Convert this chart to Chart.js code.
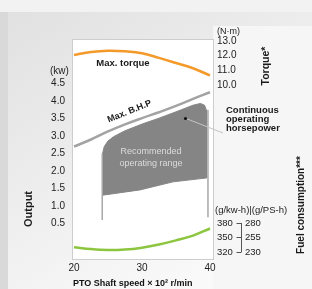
<!DOCTYPE html>
<html>
<head>
<meta charset="utf-8">
<script src="https://cdn.jsdelivr.net/npm/chart.js@4.4.1/dist/chart.umd.min.js"></script>
<style>
  html, body { margin: 0; padding: 0; background: #e8e8e8; }
  canvas { display: block; }
</style>
</head>
<body>
<canvas id="pto" width="312" height="289"></canvas>
<script>
// values
const speedTicks = [20, 30, 40];
const speedPoints = [20, 22.5, 25, 27.5, 30, 32.5, 35, 37.5, 40];
const torqueNm = [12.05, 12.25, 12.34, 12.30, 12.17, 11.85, 11.5, 11.14, 10.65];
const maxBhpKw = [2.70, 2.90, 3.13, 3.33, 3.51, 3.68, 3.86, 4.06, 4.25];
const fuelGkwh = [330, 326, 324, 325, 329, 335.5, 344, 354, 368.6];

const outputTicks = [0.5, 1.0, 1.5, 2.0, 2.5, 3.0, 3.5, 4.0, 4.5];
const torqueTicks = [10, 11, 12, 13];
const fuelKwhTicks = [320, 350, 380];
const fuelPsTicks = [230, 255, 280];

// recommended operating range (closed outline, kW)
const rangeX = [24.2, 24.2, 24.45, 25.0, 25.8, 27.5, 30, 32.5, 35, 37.5, 38.6, 39.2, 39.5, 39.5, 38.97, 34.56, 29.7, 24.2];
const rangeKw = [1.31, 2.5, 2.7, 2.86, 2.98, 3.15, 3.34, 3.51, 3.69, 3.88, 3.93, 3.88, 3.72, 1.80, 1.79, 1.69, 1.46, 1.31];
const legLeftX = [24.15, 24.15];
const legLeftKw = [0.6, 2.5];
const legRightX = [39.7, 39.7];
const legRightKw = [0.68, 3.75];

const FONT = "'Liberation Sans', Arial, sans-serif";

function pts(xs, ys) {
    return xs.map((v, i) => ({ x: v, y: ys[i] }));
}

function fixTicks(values) {
    return scale => { scale.ticks = values.map(v => ({ value: v })); };
}

function drawText(ctx, text, x, y, opts) {
    opts = opts || {};
    ctx.save();
    ctx.font = (opts.weight || 'normal') + ' ' + (opts.size || 9) + 'px ' + FONT;
    ctx.fillStyle = opts.color || '#1a1a1a';
    ctx.textAlign = opts.align || 'left';
    ctx.textBaseline = 'middle';
    ctx.translate(x, y);
    if (opts.rot) ctx.rotate(opts.rot * Math.PI / 180);
    ctx.fillText(text, 0, 0);
    ctx.restore();
}

// background panel + white plot box
const panelPlugin = {
    id: 'panel',
    beforeDraw(chart) {
        const { ctx, chartArea: a, width, height } = chart;
        ctx.save();
        const g = ctx.createLinearGradient(0, 0, width * 0.55, height);
        g.addColorStop(0, '#e0e0e0');
        g.addColorStop(0.45, '#ebebeb');
        g.addColorStop(1, '#f9f9f9');
        ctx.fillStyle = g;
        ctx.fillRect(0, 0, width, height);
        ctx.fillStyle = '#f2f2f2';
        ctx.fillRect(0, 0, width, 12);
        ctx.fillStyle = '#d9d9d9';
        ctx.fillRect(0, 12, 8, height - 12);
        ctx.fillStyle = '#f6f6f6';
        ctx.fillRect(a.right, 26, width - a.right, height - 26);
        ctx.fillStyle = '#ffffff';
        ctx.fillRect(a.left, a.top, a.right - a.left, a.bottom - a.top);
        ctx.strokeStyle = '#cdcdcd';
        ctx.lineWidth = 1;
        ctx.strokeRect(a.left - 0.5, a.top - 0.5, a.right - a.left + 1, a.bottom - a.top + 1);
        ctx.restore();
    }
};

// curve labels, units, side titles
const notesPlugin = {
    id: 'notes',
    afterDatasetsDraw(chart) {
        const ctx = chart.ctx;
        const fuel = chart.scales.yFuel;

        drawText(ctx, 'Max. torque', 123, 63, { size: 9.5, weight: 'bold', align: 'center' });
        drawText(ctx, 'Max. B.H.P', 129.5, 111.5, { size: 9, weight: 'bold', align: 'center', rot: -22 });
        drawText(ctx, 'Recommended', 151, 152, { size: 9, color: '#dcdcdc', align: 'center' });
        drawText(ctx, 'operating range', 151, 163.5, { size: 9, color: '#dcdcdc', align: 'center' });

        // leader for continuous operating horsepower
        ctx.save();
        ctx.strokeStyle = '#c4c4c4';
        ctx.lineWidth = 1;
        ctx.beginPath();
        ctx.moveTo(186, 118.5);
        ctx.lineTo(223, 133);
        ctx.stroke();
        ctx.fillStyle = '#111';
        ctx.beginPath();
        ctx.arc(185.5, 118.5, 1.6, 0, Math.PI * 2);
        ctx.fill();
        ctx.restore();
        drawText(ctx, 'Continuous', 226, 110, { size: 9.5, weight: 'bold' });
        drawText(ctx, 'operating', 226, 119, { size: 9.5, weight: 'bold' });
        drawText(ctx, 'horsepower', 226, 128, { size: 9.5, weight: 'bold' });

        // units
        drawText(ctx, '(kw)', 50, 71, { size: 10, color: '#222' });
        drawText(ctx, '(N·m)', 217, 31.5, { size: 9, color: '#222' });
        drawText(ctx, '(g/kw-h)|(g/PS-h)', 215, 210, { size: 9.5, color: '#222' });

        // side titles
        drawText(ctx, 'Output', 29, 209, { size: 11, weight: 'bold', align: 'center', rot: -90 });
        drawText(ctx, 'Torque*', 266, 66, { size: 10.5, weight: 'bold', align: 'center', rot: -90 });
        drawText(ctx, 'Fuel consumption***', 301, 205, { size: 10, weight: 'bold', align: 'center', rot: -90 });

        // bracket joining the two fuel scales
        const ys = fuelKwhTicks.map(v => fuel.getPixelForValue(v));
        const bx = 241.5;
        ctx.save();
        ctx.strokeStyle = '#555';
        ctx.lineWidth = 1;
        ctx.beginPath();
        ctx.moveTo(bx, Math.min(...ys));
        ctx.lineTo(bx, Math.max(...ys));
        ys.forEach(y => {
            ctx.moveTo(bx - 5, Math.round(y) + 0.5);
            ctx.lineTo(bx, Math.round(y) + 0.5);
        });
        ctx.stroke();
        ctx.restore();
    }
};

const tickFont = { size: 10, family: FONT };
const hidden = { display: false, drawTicks: false };

new Chart(document.getElementById('pto'), {
    type: 'line',
    data: {
        datasets: [
            {
                label: 'Max. torque',
                data: pts(speedPoints, torqueNm),
                yAxisID: 'yTorque',
                borderColor: '#f39a2b',
                borderWidth: 2.5,
                tension: 0.4,
                pointRadius: 0,
                fill: false
            },
            {
                label: 'Fuel consumption',
                data: pts(speedPoints, fuelGkwh),
                yAxisID: 'yFuel',
                borderColor: '#8cc63f',
                borderWidth: 2.5,
                tension: 0.4,
                pointRadius: 0,
                fill: false
            },
            {
                label: 'Max. B.H.P',
                data: pts(speedPoints, maxBhpKw),
                yAxisID: 'y',
                borderColor: '#a3a3a3',
                borderWidth: 2.5,
                tension: 0.4,
                pointRadius: 0,
                fill: false
            },
            {
                label: 'range left',
                data: pts(legLeftX, legLeftKw),
                yAxisID: 'y',
                borderColor: '#a8a8a8',
                borderWidth: 1.5,
                pointRadius: 0,
                fill: false
            },
            {
                label: 'range right',
                data: pts(legRightX, legRightKw),
                yAxisID: 'y',
                borderColor: '#a8a8a8',
                borderWidth: 1.5,
                pointRadius: 0,
                fill: false
            },
            {
                label: 'Recommended operating range',
                data: pts(rangeX, rangeKw),
                yAxisID: 'y',
                borderColor: '#868686',
                borderWidth: 1,
                backgroundColor: '#858585',
                tension: 0,
                pointRadius: 0,
                fill: 'shape'
            }
        ]
    },
    options: {
        responsive: false,
        animation: false,
        layout: { padding: { top: 40, left: 0, right: 0, bottom: 0 } },
        plugins: {
            legend: { display: false },
            tooltip: { enabled: false }
        },
        scales: {
            x: {
                type: 'linear',
                min: 19.85,
                max: 40.44,
                afterBuildTicks: fixTicks(speedTicks),
                afterFit: s => { s.height = 30; },
                grid: hidden,
                border: { display: false },
                ticks: { padding: 3, autoSkip: false, color: '#222', font: tickFont },
                title: {
                    display: true,
                    text: 'PTO Shaft speed × 10² r/min',
                    align: 'start',
                    padding: 0,
                    color: '#111',
                    font: { size: 9, weight: 'bold', family: FONT }
                }
            },
            y: {
                position: 'left',
                min: -0.514,
                max: 5.743,
                afterBuildTicks: fixTicks(outputTicks),
                afterFit: s => { s.width = 73; },
                grid: hidden,
                border: { display: false },
                ticks: { padding: 8, autoSkip: false, color: '#222', font: tickFont, callback: v => v.toFixed(1) }
            },
            // torque (upper half) and fuel g/kW·h (lower half) share one column
            yTorque: {
                position: 'right',
                stack: 'right',
                stackWeight: 1,
                weight: 1,
                min: 5.602,
                max: 13.068,
                afterBuildTicks: fixTicks(torqueTicks),
                afterFit: s => { s.width = 32; },
                grid: hidden,
                border: { display: false },
                ticks: { padding: 4, autoSkip: false, color: '#222', font: tickFont, callback: v => v.toFixed(1) }
            },
            yFuel: {
                position: 'right',
                stack: 'right',
                stackWeight: 1,
                weight: 1,
                min: 305.5,
                max: 532.1,
                afterBuildTicks: fixTicks(fuelKwhTicks),
                afterFit: s => { s.width = 32; },
                grid: hidden,
                border: { display: false },
                ticks: { padding: 4, autoSkip: false, color: '#222', font: { size: 9.5, family: FONT } }
            },
            yFuelPS: {
                position: 'right',
                weight: 2,
                min: 217.9,
                max: 595.5,
                afterBuildTicks: fixTicks(fuelPsTicks),
                afterFit: s => { s.width = 67; },
                grid: hidden,
                border: { display: false },
                ticks: { padding: 0, autoSkip: false, color: '#222', font: { size: 9.5, family: FONT } }
            }
        }
    },
    plugins: [panelPlugin, notesPlugin]
});
</script>
</body>
</html>
